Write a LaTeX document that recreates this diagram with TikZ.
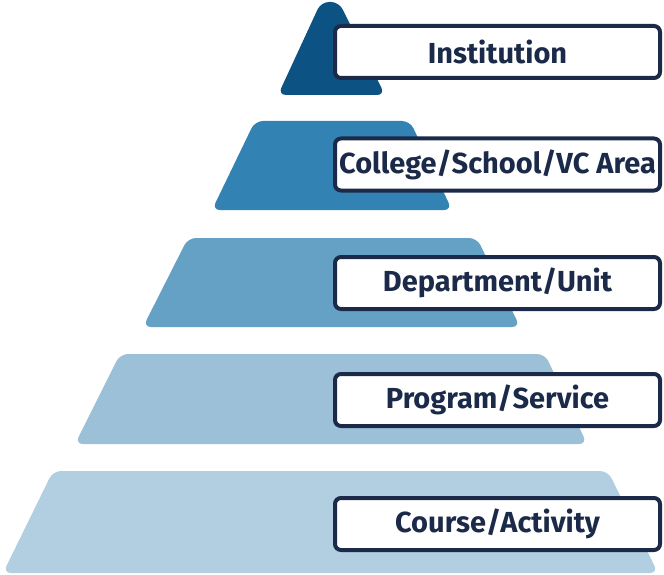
\documentclass[tikz,border=0pt]{standalone}
\usepackage{fontspec}
\setmainfont{Fira Sans}

\definecolor{navy}{HTML}{1B2A48}
\definecolor{tierA}{HTML}{0C5283}
\definecolor{tierB}{HTML}{3282B4}
\definecolor{tierC}{HTML}{65A1C4}
\definecolor{tierD}{HTML}{9BC0D8}
\definecolor{tierE}{HTML}{B2CFE1}

\begin{document}
\begin{tikzpicture}[x=1pt, y=-1pt]

\tikzstyle{every node} = [rectangle, draw=navy, line width=4pt, rounded corners=6pt,
  fill=white, text=navy, minimum width=325pt, minimum height=52pt, inner xsep=2pt,
  font=\bfseries\fontsize{29}{32}\selectfont]

\useasboundingbox (0,0) rectangle (664,575);

% pyramid tiers
\fill[tierA, rounded corners=8pt] (278,95) -- (321,2) -- (339,2) -- (385,95) -- cycle;
\fill[tierB, rounded corners=8pt] (212,210) -- (255,121) -- (410,121) -- (452,210) -- cycle;
\fill[tierC, rounded corners=8pt] (143,327) -- (188,238) -- (477,238) -- (520,327) -- cycle;
\fill[tierD, rounded corners=8pt] (75,444) -- (120,354) -- (545,354) -- (587,444) -- cycle;
\fill[tierE, rounded corners=8pt] (3,573) -- (53,471) -- (608,471) -- (658,573) -- cycle;

% labels
\node (i) at (497.5,52)  {Institution};
\node (c) at (497.5,164.5) {College/School/VC Area};
\node (d) at (497.5,283) {Department/Unit};
\node (p) at (497.5,400) {Program/Service};
\node (a) at (497.5,524) {Course/Activity};

\end{tikzpicture}
\end{document}
